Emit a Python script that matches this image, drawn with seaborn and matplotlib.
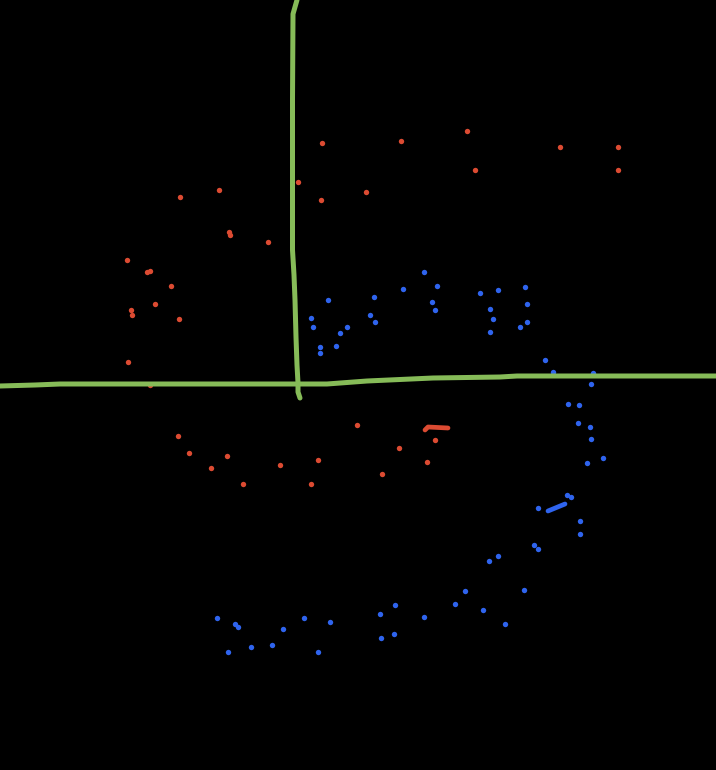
import matplotlib
matplotlib.use("Agg")
import matplotlib.pyplot as plt
import seaborn as sns

# --- data (pixel-like coords, y grows downward) ---
red_x = [322, 298, 321, 219, 180, 229, 230, 268, 127, 147, 150, 171, 155, 131, 132, 179, 128,
         401, 467, 560, 618, 618, 475, 366, 150, 178, 189, 227, 211, 243, 280, 318, 311, 357,
         399, 382, 435, 427]
red_y = [143, 182, 200, 190, 197, 232, 235, 242, 260, 272, 271, 286, 304, 310, 315, 319, 362,
         141, 131, 147, 147, 170, 170, 192, 385, 436, 453, 456, 468, 484, 465, 460, 484, 425,
         448, 474, 440, 462]

blue_x = [424, 328, 311, 313, 320, 320, 336, 340, 347, 374, 370, 375, 403, 437, 432, 435, 480,
          498, 490, 493, 490, 525, 527, 527, 520, 545, 553, 593, 591, 568, 579, 578, 590, 591,
          603, 587, 567, 571, 538, 580, 580, 534, 538, 489, 498, 465, 524, 455, 483, 505, 424,
          395, 380, 381, 394, 330, 318, 304, 283, 272, 251, 228, 217, 235, 238]
blue_y = [272, 300, 318, 327, 347, 353, 346, 333, 327, 297, 315, 322, 289, 286, 302, 310, 293,
          290, 309, 319, 332, 287, 304, 322, 327, 360, 372, 373, 384, 404, 405, 423, 427, 439,
          458, 463, 495, 497, 508, 521, 534, 545, 549, 561, 556, 591, 590, 604, 610, 624, 617,
          605, 614, 638, 634, 622, 652, 618, 629, 645, 647, 652, 618, 624, 627]

# hand drawn axes
hline_x = [0, 35, 60, 150, 327, 367, 433, 500, 517, 716]
hline_y = [386, 385, 384, 384, 384, 381, 378, 377, 376, 376]
vline_x = [297, 293, 292.5, 292.5, 294, 295, 296, 297, 298, 298, 300]
vline_y = [0, 14, 100, 250, 275, 300, 337, 365, 383, 392, 398]

# short strokes
red_seg_x = [425, 428, 448]
red_seg_y = [430, 427, 428]
blue_seg_x = [548, 565]
blue_seg_y = [511, 504]

RED = "#dc4b32"
BLUE = "#2f64ee"
GREEN = "#86bb58"

fig = plt.figure(figsize=(7.16, 7.70), dpi=100, facecolor="black")
ax = fig.add_axes([0, 0, 1, 1])
ax.set_facecolor("black")

sns.scatterplot(x=red_x, y=red_y, color=RED, s=15, linewidth=0, ax=ax, zorder=2)
sns.scatterplot(x=blue_x, y=blue_y, color=BLUE, s=15, linewidth=0, ax=ax, zorder=2)

sns.lineplot(x=hline_x, y=hline_y, sort=False, estimator=None, color=GREEN, lw=3.6, ax=ax, zorder=3)
sns.lineplot(x=vline_x, y=vline_y, sort=False, estimator=None, color=GREEN, lw=3.6, ax=ax, zorder=3,
             solid_capstyle="round")
sns.lineplot(x=red_seg_x, y=red_seg_y, sort=False, estimator=None, color=RED, lw=3.4, ax=ax,
             solid_capstyle="round")
sns.lineplot(x=blue_seg_x, y=blue_seg_y, sort=False, estimator=None, color=BLUE, lw=3.4, ax=ax,
             solid_capstyle="round")

ax.set_xlim(0, 716)
ax.set_ylim(770, 0)
ax.axis("off")

fig.savefig("out.png", dpi=100, facecolor="black")
